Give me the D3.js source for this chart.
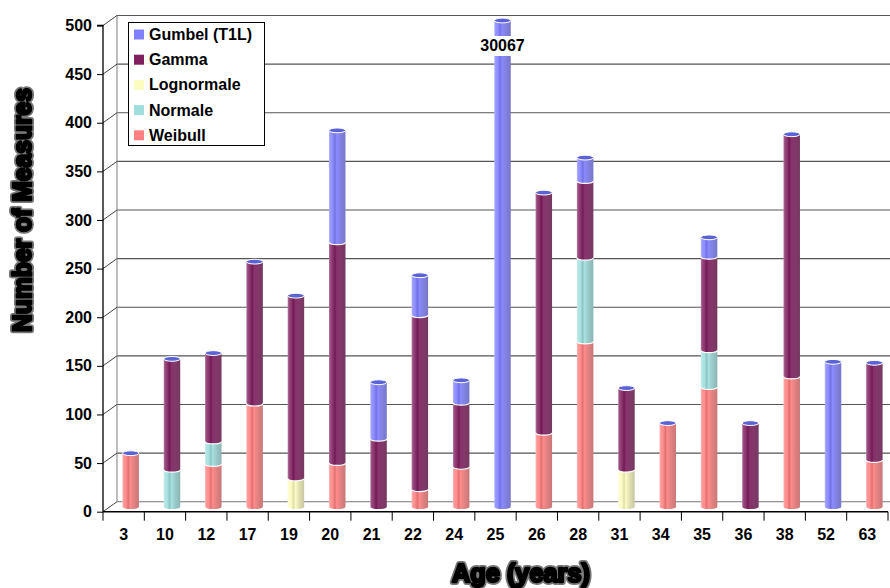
<!DOCTYPE html>
<html>
<head>
<meta charset="utf-8">
<script src="https://cdn.jsdelivr.net/npm/d3@7"></script>
<style>
  html, body { margin: 0; padding: 0; background: #fff; }
  svg { display: block; font-family: "Liberation Sans", Arial, sans-serif; }
</style>
</head>
<body>
<svg id="chart" width="890" height="588"></svg>
<script>
// Measures per age, stacked by fitted distribution (bottom to top)
const ages = ["3","10","12","17","19","20","21","22","24","25","26","28","31","34","35","36","38","52","63"];
const weibull    = [55, 0, 44, 106, 0, 45, 0, 18, 41, 0, 76, 170, 0, 86, 123, 0, 134, 0, 48];
const normale    = [0, 38, 23, 0, 0, 0, 0, 0, 0, 0, 0, 86, 0, 0, 38, 0, 0, 0, 0];
const lognormale = [0, 0, 0, 0, 29, 0, 0, 0, 0, 0, 0, 0, 38, 0, 0, 0, 0, 0, 0];
const gamma      = [0, 114, 91, 146, 188, 227, 70, 179, 66, 0, 247, 79, 84, 0, 96, 86, 249, 0, 100];
const gumbel     = [0, 0, 0, 0, 0, 115, 58, 41, 23, 30067, 0, 24, 0, 0, 20, 0, 0, 149, 0];
const yTicks = [0, 50, 100, 150, 200, 250, 300, 350, 400, 450, 500];

const seriesNames  = ["Weibull", "Normale", "Lognormale", "Gamma", "Gumbel (T1L)"];
const seriesValues = [weibull, normale, lognormale, gamma, gumbel];
const seriesColors = ["#ff8080", "#a0dede", "#fcfcc0", "#7f1f5f", "#8080ff"];
const legendOrder  = [4, 3, 2, 1, 0];

const svg = d3.select("#chart");
const defs = svg.append("defs");

// Layout: front axis plane, back wall offset for the 3-D look
const depthX = 14, depthY = -10;
const left = 103, right = 888;
const x = d3.scaleBand().domain(ages).range([left, right]).padding(0);
const yFront = d3.scaleLinear().domain([0, 500]).range([511.7, 25.5]).clamp(true);
const yBack = v => yFront(v) + depthY;
const yMid = v => yFront(v) + depthY / 2;

// Back wall: gridlines and left edge
const grid = svg.append("g");
grid.selectAll("line.h").data(yTicks).join("line")
  .attr("x1", left + depthX).attr("x2", 890)
  .attr("y1", d => yBack(d)).attr("y2", d => yBack(d))
  .attr("stroke", d => d === 0 ? "#777" : "#555").attr("stroke-width", 1.1);
grid.append("line")
  .attr("x1", left + depthX).attr("x2", left + depthX)
  .attr("y1", yBack(500)).attr("y2", yBack(0))
  .attr("stroke", "#888").attr("stroke-width", 1.1);
// Side wall diagonals from each y tick to the back wall
grid.selectAll("line.d").data(yTicks).join("line")
  .attr("x1", left).attr("x2", left + depthX)
  .attr("y1", d => yFront(d)).attr("y2", d => yBack(d))
  .attr("stroke", "#444").attr("stroke-width", 1);

// Cylinder shading gradients
seriesColors.forEach((c, i) => {
  const base = d3.color(c);
  const mix = (a, b, t) => d3.interpolateRgb(a, b)(t);
  const g = defs.append("linearGradient").attr("id", "cyl" + i)
    .attr("x1", "0%").attr("x2", "100%").attr("y1", "0%").attr("y2", "0%");
  const stops = [
    [0, mix(base, "#fff", 0.45)],
    [0.08, mix(base, "#fff", 0.2)],
    [0.22, mix(base, "#fff", 0.1)],
    [0.36, mix(base, "#000", 0.12)],
    [0.46, mix(base, "#fff", 0.08)],
    [0.7, mix(base, "#888", 0.25)],
    [1, mix(base, "#666", 0.35)]
  ];
  stops.forEach(([o, col]) => g.append("stop").attr("offset", o).attr("stop-color", col));
});

// Stacked data
const rows = ages.map((a, j) => {
  const r = { age: a };
  seriesNames.forEach((n, i) => r[n] = seriesValues[i][j]);
  return r;
});
const stack = d3.stack().keys(seriesNames)(rows);

const bw = 16.5, rx = bw / 2, ry = 2.4;
const cx = a => x(a) + x.bandwidth() / 2 + depthX / 2;

const bars = svg.append("g");
stack.forEach((layer, i) => {
  layer.forEach((d, j) => {
    const v0 = d[0], v1 = d[1];
    if (v1 - v0 <= 0) return;
    const c = cx(ages[j]);
    const L = c - rx, R = c + rx;
    const yb = yMid(v0), yt = yMid(v1);
    const path = `M${L},${yt} A${rx},${ry} 0 0 0 ${R},${yt} L${R},${yb} A${rx},${ry} 0 0 1 ${L},${yb} Z`;
    bars.append("path").attr("d", path).attr("fill", `url(#cyl${i})`);
  });
});
// Segment boundaries (white front arcs) and top caps
rows.forEach((r, j) => {
  const c = cx(r.age);
  const L = c - rx, R = c + rx;
  let top = 0;
  stack.forEach(layer => {
    const d = layer[j];
    if (d[1] - d[0] > 0) {
      if (d[0] > 0) {
        const yb = yMid(d[0]);
        bars.append("path")
          .attr("d", `M${L},${yb} A${rx},${ry} 0 0 0 ${R},${yb}`)
          .attr("fill", "none").attr("stroke", "#fff").attr("stroke-width", 1.2);
      }
      top = Math.max(top, d[1]);
    }
  });
  if (top > 0) {
    bars.append("ellipse")
      .attr("cx", c).attr("cy", yMid(top)).attr("rx", rx).attr("ry", ry)
      .attr("fill", "#5a62d6").attr("stroke", "#fff").attr("stroke-width", 1);
  }
});

// Value label on the clipped bar
rows.forEach((r, j) => {
  const total = seriesNames.reduce((s, n) => s + r[n], 0);
  if (total > 500) {
    const c = cx(r.age);
    const lg = svg.append("g");
    const t = lg.append("text").attr("x", c).attr("y", 51)
      .attr("text-anchor", "middle").attr("font-size", 16).attr("font-weight", "bold")
      .text(total);
    const bb = t.node().getBBox();
    lg.insert("rect", "text").attr("x", bb.x - 1).attr("y", bb.y - 1)
      .attr("width", bb.width + 2).attr("height", bb.height + 3).attr("fill", "#fff");
  }
});

// Front axes
const yAxis = svg.append("g").attr("transform", `translate(${left},0)`)
  .call(d3.axisLeft(yFront).tickValues(yTicks).tickSize(6).tickPadding(5));
yAxis.select(".domain").attr("stroke", "#000").attr("stroke-width", 1.3)
  .attr("d", `M-6,${yFront(500)}H0V${yFront(0)}`);
yAxis.selectAll(".tick line").attr("stroke", "#000");
yAxis.selectAll(".tick text").attr("font-size", 16).attr("font-weight", "bold")
  .attr("fill", "#000").attr("font-family", "Liberation Sans, Arial, sans-serif");

const xAxis = svg.append("g").attr("transform", `translate(0,${yFront(0)})`)
  .call(d3.axisBottom(x).tickSize(0).tickPadding(17));
xAxis.select(".domain").attr("stroke", "#000").attr("stroke-width", 1.5)
  .attr("d", `M${left},0H${right}`);
xAxis.selectAll(".tick text").attr("font-size", 16).attr("font-weight", "bold")
  .attr("fill", "#000").attr("font-family", "Liberation Sans, Arial, sans-serif");
xAxis.selectAll("line.sep").data(d3.range(ages.length + 1)).join("line")
  .attr("x1", i => left + i * x.step()).attr("x2", i => left + i * x.step())
  .attr("y1", 0).attr("y2", 9).attr("stroke", "#000").attr("stroke-width", 1);

// Legend
const lgd = svg.append("g");
lgd.append("rect").attr("x", 128.5).attr("y", 22.5).attr("width", 136).attr("height", 123)
  .attr("fill", "#fff").attr("stroke", "#000").attr("stroke-width", 1);
legendOrder.forEach((si, k) => {
  const cy = 34.5 + k * 25.2;
  lgd.append("rect").attr("x", 134).attr("y", cy - 5).attr("width", 10).attr("height", 10)
    .attr("fill", seriesColors[si]);
  lgd.append("text").attr("x", 149).attr("y", cy + 5.5)
    .attr("font-size", 16).attr("font-weight", "bold").text(seriesNames[si]);
});

// Axis titles
const blur = defs.append("filter").attr("id", "soft");
blur.append("feGaussianBlur").attr("stdDeviation", 0.6);
function title(g, txt, len) {
  g.append("text").attr("text-anchor", "middle").attr("font-size", 26).attr("font-weight", "bold")
    .attr("textLength", len).attr("lengthAdjust", "spacingAndGlyphs")
    .attr("fill", "#777").attr("stroke", "#777").attr("stroke-width", 6)
    .attr("stroke-linejoin", "round").attr("filter", "url(#soft)").text(txt);
  g.append("text").attr("text-anchor", "middle").attr("font-size", 26).attr("font-weight", "bold")
    .attr("textLength", len).attr("lengthAdjust", "spacingAndGlyphs")
    .attr("fill", "#000").attr("stroke", "#000").attr("stroke-width", 2.5)
    .attr("stroke-linejoin", "round").attr("filter", "url(#soft)").text(txt);
}
title(svg.append("g").attr("transform", "translate(31,210) rotate(-90)"), "Number of Measures", 244);
title(svg.append("g").attr("transform", "translate(521,582)"), "Age (years)", 138);
</script>
</body>
</html>
